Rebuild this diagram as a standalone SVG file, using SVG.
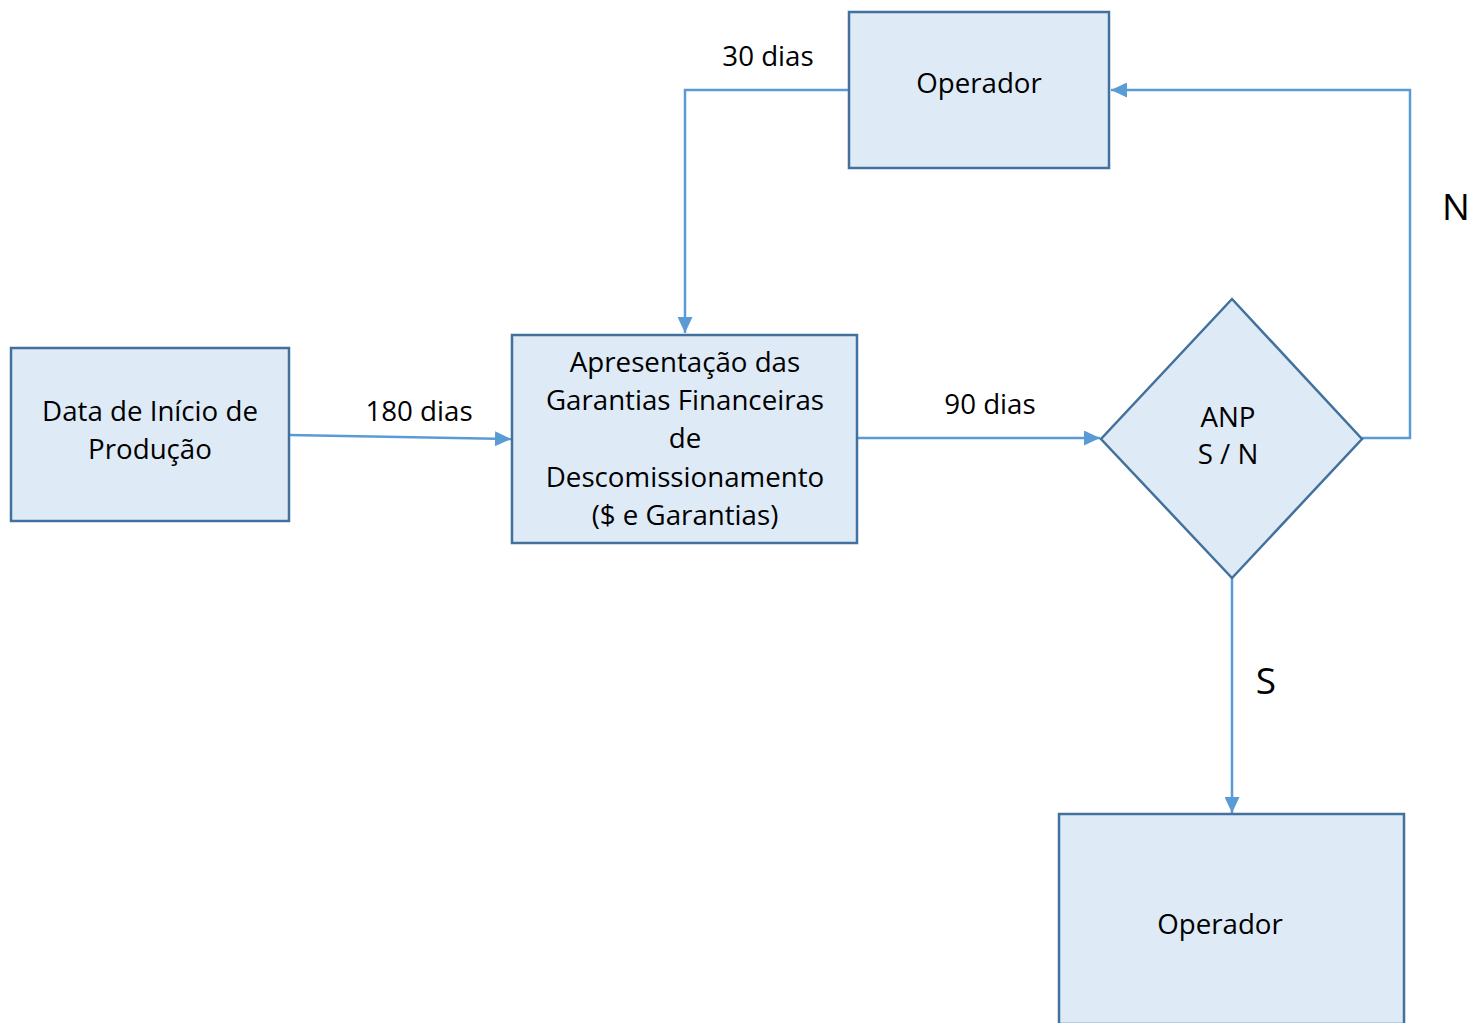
<svg xmlns="http://www.w3.org/2000/svg" width="1470" height="1023" viewBox="0 0 1470 1023">
<style>
.node{fill:#DEEAF6;stroke:#41719C;stroke-width:2.5}
.conn{fill:none;stroke:#5B9BD5;stroke-width:2.5}
text{font-family:"Open Sans","Noto Sans","Liberation Sans",sans-serif;font-size:27.7px;fill:#000;text-anchor:middle}
.big{font-size:37px}
</style>
<defs>
<marker id="arr" markerUnits="userSpaceOnUse" markerWidth="16" markerHeight="15" viewBox="0 0 16 15" refX="16" refY="7.5" orient="auto">
<path d="M0,0 L16,7.5 L0,15 Z" fill="#5B9BD5"/>
</marker>
</defs>
<rect width="1470" height="1023" fill="#fff"/>
<g id="connectors">
<path class="conn" d="M289,435 L511,439" marker-end="url(#arr)"/>
<path class="conn" d="M857,438 L1100,438" marker-end="url(#arr)"/>
<path class="conn" d="M1362,438 L1410,438 L1410,90 L1111,90" marker-end="url(#arr)"/>
<path class="conn" d="M848,90 L685,90 L685,333" marker-end="url(#arr)"/>
<path class="conn" d="M1232,578 L1232,813" marker-end="url(#arr)"/>
<text x="768" y="66">30 dias</text>
<text x="419" y="421">180 dias</text>
<text x="990" y="414">90 dias</text>
<text class="big" x="1456" y="220">N</text>
<text class="big" x="1266" y="694">S</text>
</g>
<g id="data-inicio">
<rect class="node" x="11" y="348" width="278" height="173"/>
<text x="150" y="421">Data de Início de</text>
<text x="150" y="459">Produção</text>
</g>
<g id="apresentacao">
<rect class="node" x="512" y="335" width="345" height="208"/>
<text x="685" y="372">Apresentação das</text>
<text x="685" y="410">Garantias Financeiras</text>
<text x="685" y="448">de</text>
<text x="685" y="487">Descomissionamento</text>
<text x="685" y="525">($ e Garantias)</text>
</g>
<g id="operador-top">
<rect class="node" x="849" y="12" width="260" height="156"/>
<text x="979" y="93">Operador</text>
</g>
<g id="anp">
<polygon class="node" points="1232,299 1362,439 1232,578 1101,439"/>
<text x="1228" y="427">ANP</text>
<text x="1228" y="464">S / N</text>
</g>
<g id="operador-bottom">
<rect class="node" x="1059" y="814" width="345" height="210"/>
<text x="1220" y="934">Operador</text>
</g>
</svg>
